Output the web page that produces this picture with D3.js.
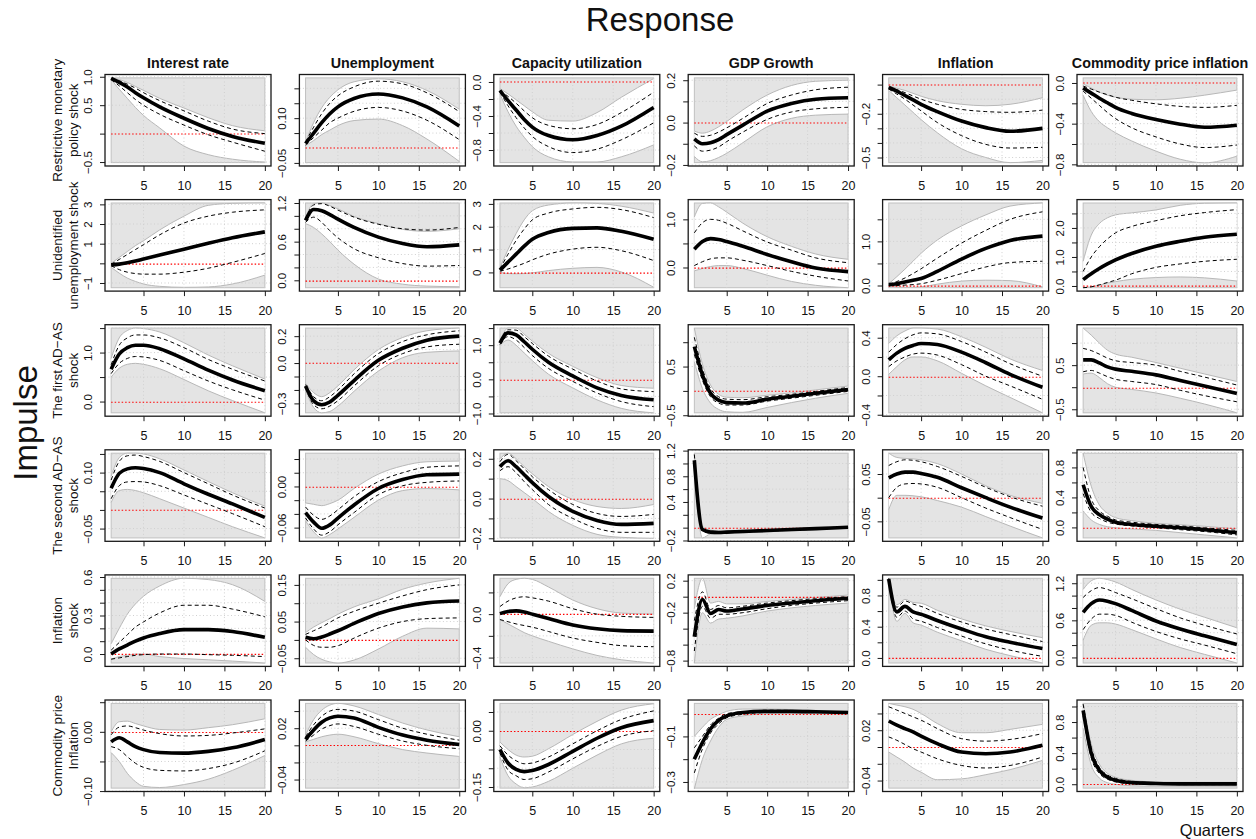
<!DOCTYPE html>
<html>
<head>
<meta charset="UTF-8">
<title>Impulse responses</title>
<script src="https://d3js.org/d3.v7.min.js"></script>
<style>
  body { margin: 0; background: #fff; overflow: hidden; }
  svg text { font-family: "Liberation Sans", Arial, Helvetica, sans-serif; fill: #111; }
</style>
</head>
<body>
<div id="chart"></div>
<script>

var quarters = [1, 2, 3, 4, 5, 7, 10, 13, 16, 20];
var xTickValues = [5, 10, 15, 20];

var responses = ["Interest rate", "Unemployment", "Capacity utilization", "GDP Growth", "Inflation", "Commodity price inflation"];
var impulses = [
    ["Restrictive monetary", "policy shock"],
    ["Unidentified", "unemployment shock"],
    ["The first AD\u2212AS", "shock"],
    ["The second AD\u2212AS", "shock"],
    ["Inflation", "shock"],
    ["Commodity price", "Inflation"]
];

// panels are listed row by row (impulse), 6 columns (response) each
var yLimits = [
    [-0.51, 0.98], [-0.049, 0.235], [-0.948, 0.048], [-0.189, 0.211], [-0.535, 0.046], [-0.783, 0.05],
    [-1.24, 3.07], [-0.115, 1.2], [-0.67, 3.04], [-0.42, 1.34], [-0.05, 1.87], [-0.06, 2.86],
    [-0.23, 1.5], [-0.37, 0.26], [-0.98, 1.5], [-0.45, 1.29], [-0.38, 0.5], [-0.58, 1.34],
    [-0.075, 0.152], [-0.075, 0.0485], [-0.198, 0.228], [-0.16, 1.16], [-0.085, 0.094], [-0.14, 0.99],
    [-0.07, 0.59], [-0.063, 0.168], [-0.45, 0.33], [-0.83, 0.23], [-0.065, 1.02], [-0.09, 1.28],
    [-0.095, 0.048], [-0.05, 0.049], [-0.153, 0.073], [-0.327, 0.045], [-0.049, 0.052], [-0.05, 1.04]
];

var yTicks = [
    [-0.5, 0, 0.5, 1], [-0.05, 0, 0.05, 0.1, 0.15, 0.2], [-0.8, -0.6, -0.4, -0.2, 0], [-0.2, -0.1, 0, 0.1, 0.2], [-0.5, -0.4, -0.3, -0.2, -0.1, 0], [-0.8, -0.6, -0.4, -0.2, 0],
    [-1, 0, 1, 2, 3], [0, 0.2, 0.4, 0.6, 0.8, 1.0, 1.2], [0, 1, 2, 3], [0, 0.5, 1], [0, 0.5, 1, 1.5], [0, 0.5, 1, 1.5, 2, 2.5],
    [0, 0.5, 1, 1.5], [-0.3, -0.2, -0.1, 0, 0.1, 0.2], [-1, -0.5, 0, 0.5, 1, 1.5], [-0.5, 0, 0.5, 1], [-0.4, -0.2, 0, 0.2, 0.4], [-0.5, 0, 0.5, 1],
    [-0.05, 0, 0.05, 0.1, 0.15], [-0.06, -0.04, -0.02, 0, 0.02, 0.04], [-0.2, -0.1, 0, 0.1, 0.2], [-0.2, 0, 0.2, 0.4, 0.6, 0.8, 1, 1.2], [-0.05, 0, 0.05], [0, 0.2, 0.4, 0.6, 0.8, 1],
    [0, 0.1, 0.2, 0.3, 0.4, 0.5, 0.6], [-0.05, 0, 0.05, 0.1, 0.15], [-0.4, -0.2, 0, 0.2], [-0.8, -0.6, -0.4, -0.2, 0, 0.2], [0, 0.2, 0.4, 0.6, 0.8, 1], [0, 0.2, 0.4, 0.6, 0.8, 1, 1.2],
    [-0.1, -0.05, 0, 0.05], [-0.04, -0.02, 0, 0.02, 0.04], [-0.15, -0.1, -0.05, 0, 0.05], [-0.3, -0.2, -0.1, 0], [-0.04, -0.02, 0, 0.02, 0.04], [0, 0.2, 0.4, 0.6, 0.8, 1]
];

// labels R printed (others dropped because they would overlap)
var yTickText = [
    ["-0.5", "", "0.5", "1.0"], ["-0.05", "", "", "0.10", "", ""], ["-0.8", "", "-0.4", "", "0.0"], ["-0.2", "", "0.0", "", "0.2"], ["-0.5", "", "", "-0.2", "", ""], ["-0.8", "", "-0.4", "", "0.0"],
    ["-1", "", "1", "2", "3"], ["0.0", "", "", "0.6", "", "", "1.2"], ["0", "1", "2", "3"], ["0.0", "", "1.0"], ["0.0", "", "1.0", ""], ["0.0", "", "1.0", "", "2.0", ""],
    ["0.0", "", "1.0", ""], ["-0.3", "", "", "0.0", "", "0.2"], ["-1.0", "", "0.0", "", "1.0", ""], ["-0.5", "", "0.5", ""], ["-0.4", "", "0.0", "", "0.4"], ["-0.5", "", "0.5", ""],
    ["-0.05", "", "", "0.10", ""], ["-0.06", "", "", "0.00", "", ""], ["-0.2", "", "0.0", "", "0.2"], ["-0.2", "", "", "0.4", "", "0.8", "", "1.2"], ["-0.05", "", "0.05"], ["0.0", "", "0.4", "", "0.8", ""],
    ["0.0", "", "", "0.3", "", "", "0.6"], ["-0.05", "", "0.05", "", "0.15"], ["-0.4", "", "0.0", ""], ["-0.8", "", "", "-0.2", "", "0.2"], ["0.0", "", "0.4", "", "0.8", ""], ["0.0", "", "", "0.6", "", "", "1.2"],
    ["-0.10", "", "0.00", ""], ["-0.04", "", "", "0.02", ""], ["-0.15", "", "", "0.00", ""], ["-0.3", "", "-0.1", ""], ["-0.04", "", "", "0.02", ""], ["0.0", "", "0.4", "", "0.8", ""]
];

var medianIRF = [
    [0.97, 0.90, 0.82, 0.72, 0.63, 0.47, 0.27, 0.09, -0.05, -0.17],
    [0.015, 0.05, 0.085, 0.115, 0.138, 0.166, 0.181, 0.168, 0.138, 0.074],
    [-0.10, -0.22, -0.33, -0.44, -0.53, -0.63, -0.68, -0.63, -0.52, -0.30],
    [-0.077, -0.10, -0.095, -0.08, -0.057, -0.012, 0.054, 0.09, 0.11, 0.117],
    [-0.02, -0.045, -0.075, -0.105, -0.135, -0.185, -0.25, -0.295, -0.32, -0.30],
    [-0.05, -0.10, -0.15, -0.195, -0.24, -0.30, -0.36, -0.405, -0.435, -0.415],

    [-0.08, -0.04, 0.03, 0.12, 0.22, 0.42, 0.72, 1.02, 1.3, 1.6],
    [0.93, 1.1, 1.08, 1.02, 0.95, 0.82, 0.67, 0.57, 0.52, 0.55],
    [0.1, 0.45, 0.8, 1.15, 1.45, 1.75, 1.93, 1.95, 1.8, 1.45],
    [0.38, 0.54, 0.6, 0.58, 0.54, 0.44, 0.27, 0.12, -0.01, -0.085],
    [0.02, 0.04, 0.08, 0.12, 0.16, 0.32, 0.6, 0.84, 1.02, 1.12],
    [0.22, 0.42, 0.6, 0.76, 0.9, 1.12, 1.37, 1.54, 1.68, 1.78],

    [0.66, 0.97, 1.1, 1.15, 1.15, 1.08, 0.87, 0.64, 0.44, 0.22],
    [-0.17, -0.28, -0.31, -0.29, -0.24, -0.13, 0.02, 0.11, 0.17, 0.2],
    [1.06, 1.36, 1.3, 1.1, 0.88, 0.5, 0.1, -0.25, -0.47, -0.6],
    [0.91, 0.33, -0.05, -0.19, -0.24, -0.25, -0.17, -0.11, -0.05, 0.03],
    [0.17, 0.24, 0.29, 0.32, 0.34, 0.33, 0.25, 0.14, 0.02, -0.115],
    [0.62, 0.62, 0.55, 0.46, 0.41, 0.36, 0.28, 0.15, 0.03, -0.14],

    [0.058, 0.098, 0.11, 0.113, 0.111, 0.1, 0.07, 0.042, 0.016, -0.02],
    [-0.038, -0.052, -0.061, -0.056, -0.046, -0.027, -0.003, 0.01, 0.017, 0.018],
    [0.16, 0.19, 0.16, 0.12, 0.08, 0.01, -0.065, -0.11, -0.13, -0.125],
    [1.05, -0.03, -0.07, -0.075, -0.07, -0.06, -0.045, -0.03, -0.015, 0.005],
    [0.042, 0.05, 0.054, 0.054, 0.051, 0.043, 0.021, 0.0, -0.02, -0.043],
    [0.57, 0.28, 0.17, 0.11, 0.07, 0.04, 0.015, -0.005, -0.03, -0.07],

    [0.0, 0.04, 0.07, 0.1, 0.125, 0.16, 0.19, 0.19, 0.175, 0.13],
    [0.007, 0.003, 0.008, 0.016, 0.025, 0.045, 0.072, 0.09, 0.101, 0.106],
    [0.005, 0.025, 0.03, 0.02, 0.0, -0.04, -0.1, -0.135, -0.152, -0.156],
    [-0.5, -0.035, -0.21, -0.16, -0.18, -0.155, -0.11, -0.08, -0.05, -0.02],
    [1.01, 0.59, 0.66, 0.59, 0.56, 0.48, 0.37, 0.27, 0.2, 0.12],
    [0.73, 0.87, 0.93, 0.91, 0.87, 0.76, 0.59, 0.46, 0.35, 0.21],

    [-0.017, -0.01, -0.017, -0.025, -0.03, -0.035, -0.036, -0.033, -0.027, -0.013],
    [0.007, 0.018, 0.027, 0.032, 0.034, 0.032, 0.021, 0.012, 0.006, 0.001],
    [-0.05, -0.086, -0.103, -0.109, -0.106, -0.09, -0.055, -0.02, 0.008, 0.027],
    [-0.2, -0.127, -0.067, -0.03, -0.01, 0.005, 0.01, 0.01, 0.008, 0.005],
    [0.031, 0.026, 0.022, 0.018, 0.013, 0.004, -0.006, -0.008, -0.006, 0.002],
    [0.95, 0.4, 0.18, 0.09, 0.05, 0.02, 0.01, 0.005, 0.005, 0.005]
];

// inner band (dashed lines)
var upper68 = [
    [0.97, 0.93, 0.87, 0.80, 0.72, 0.58, 0.40, 0.22, 0.08, 0.0],
    [0.02, 0.07, 0.115, 0.15, 0.175, 0.205, 0.224, 0.215, 0.185, 0.122],
    [-0.10, -0.17, -0.25, -0.34, -0.42, -0.51, -0.55, -0.50, -0.36, -0.12],
    [-0.05, -0.065, -0.06, -0.045, -0.025, 0.02, 0.09, 0.13, 0.155, 0.167],
    [-0.02, -0.035, -0.055, -0.078, -0.10, -0.135, -0.17, -0.185, -0.19, -0.175],
    [-0.03, -0.06, -0.09, -0.115, -0.14, -0.17, -0.205, -0.23, -0.24, -0.22],

    [-0.05, 0.2, 0.45, 0.7, 0.95, 1.45, 2.05, 2.4, 2.6, 2.72],
    [0.95, 1.17, 1.19, 1.15, 1.09, 0.98, 0.87, 0.80, 0.78, 0.82],
    [0.15, 0.8, 1.4, 1.9, 2.3, 2.6, 2.78, 2.85, 2.75, 2.4],
    [0.72, 0.93, 1.0, 0.98, 0.92, 0.76, 0.53, 0.36, 0.2, 0.1],
    [0.03, 0.09, 0.17, 0.27, 0.38, 0.62, 0.96, 1.25, 1.5, 1.67],
    [0.5, 1.0, 1.35, 1.62, 1.83, 2.05, 2.25, 2.42, 2.53, 2.63],

    [0.75, 1.15, 1.3, 1.36, 1.36, 1.3, 1.1, 0.86, 0.66, 0.42],
    [-0.16, -0.25, -0.28, -0.25, -0.2, -0.08, 0.07, 0.16, 0.21, 0.24],
    [1.1, 1.45, 1.44, 1.25, 1.05, 0.68, 0.3, -0.05, -0.28, -0.36],
    [1.1, 0.45, 0.05, -0.12, -0.17, -0.18, -0.12, -0.07, -0.01, 0.07],
    [0.25, 0.33, 0.39, 0.43, 0.45, 0.44, 0.36, 0.25, 0.13, 0.0],
    [0.88, 0.83, 0.75, 0.66, 0.6, 0.56, 0.5, 0.36, 0.23, 0.05],

    [0.08, 0.13, 0.145, 0.147, 0.143, 0.13, 0.1, 0.07, 0.04, 0.005],
    [-0.03, -0.042, -0.048, -0.043, -0.034, -0.015, 0.007, 0.02, 0.028, 0.03],
    [0.185, 0.222, 0.19, 0.15, 0.11, 0.045, -0.03, -0.075, -0.09, -0.08],
    [1.14, -0.005, -0.055, -0.06, -0.06, -0.05, -0.035, -0.02, -0.005, 0.012],
    [0.068, 0.076, 0.08, 0.079, 0.076, 0.066, 0.045, 0.022, 0.002, -0.018],
    [0.8, 0.38, 0.22, 0.15, 0.1, 0.07, 0.04, 0.02, -0.005, -0.04],

    [0.03, 0.09, 0.15, 0.21, 0.25, 0.32, 0.38, 0.38, 0.35, 0.29],
    [0.015, 0.025, 0.035, 0.048, 0.06, 0.078, 0.1, 0.12, 0.137, 0.15],
    [0.07, 0.12, 0.15, 0.16, 0.15, 0.12, 0.05, 0.0, -0.02, -0.03],
    [-0.3, 0.06, -0.16, -0.11, -0.14, -0.12, -0.08, -0.05, -0.025, 0.0],
    [1.02, 0.65, 0.73, 0.69, 0.66, 0.57, 0.46, 0.37, 0.3, 0.21],
    [0.97, 1.08, 1.13, 1.1, 1.05, 0.95, 0.79, 0.64, 0.52, 0.38],

    [-0.005, 0.008, 0.01, 0.007, 0.003, -0.003, -0.007, -0.006, -0.002, 0.005],
    [0.01, 0.024, 0.034, 0.04, 0.042, 0.04, 0.03, 0.02, 0.013, 0.006],
    [-0.04, -0.065, -0.08, -0.088, -0.086, -0.07, -0.035, 0.0, 0.03, 0.053],
    [-0.15, -0.1, -0.05, -0.02, 0.0, 0.008, 0.015, 0.014, 0.01, 0.007],
    [0.048, 0.044, 0.04, 0.036, 0.032, 0.022, 0.01, 0.007, 0.009, 0.016],
    [1.03, 0.47, 0.22, 0.12, 0.075, 0.035, 0.02, 0.015, 0.015, 0.015]
];

var lower68 = [
    [0.95, 0.84, 0.72, 0.60, 0.50, 0.34, 0.15, -0.02, -0.15, -0.31],
    [0.01, 0.035, 0.06, 0.085, 0.10, 0.123, 0.136, 0.124, 0.093, 0.028],
    [-0.12, -0.28, -0.42, -0.54, -0.64, -0.76, -0.83, -0.79, -0.68, -0.48],
    [-0.11, -0.135, -0.13, -0.115, -0.09, -0.045, 0.015, 0.05, 0.065, 0.072],
    [-0.03, -0.065, -0.10, -0.14, -0.18, -0.26, -0.35, -0.41, -0.435, -0.43],
    [-0.08, -0.15, -0.22, -0.29, -0.35, -0.44, -0.53, -0.60, -0.635, -0.61],

    [-0.12, -0.32, -0.45, -0.52, -0.55, -0.55, -0.45, -0.25, 0.05, 0.5],
    [0.9, 0.98, 0.9, 0.77, 0.66, 0.49, 0.35, 0.26, 0.22, 0.23],
    [0.05, 0.15, 0.27, 0.4, 0.55, 0.8, 1.02, 1.1, 0.95, 0.52],
    [0.04, 0.12, 0.18, 0.2, 0.2, 0.15, 0.04, -0.08, -0.18, -0.28],
    [0.0, 0.0, 0.01, 0.02, 0.04, 0.12, 0.27, 0.42, 0.52, 0.55],
    [-0.06, -0.03, 0.04, 0.12, 0.2, 0.42, 0.64, 0.76, 0.85, 0.92],

    [0.57, 0.78, 0.88, 0.92, 0.91, 0.84, 0.63, 0.42, 0.24, 0.03],
    [-0.18, -0.31, -0.34, -0.32, -0.28, -0.17, -0.02, 0.07, 0.12, 0.14],
    [1.02, 1.25, 1.15, 0.93, 0.7, 0.32, -0.06, -0.4, -0.65, -0.8],
    [0.75, 0.22, -0.12, -0.25, -0.29, -0.29, -0.21, -0.15, -0.09, -0.01],
    [0.1, 0.16, 0.2, 0.23, 0.24, 0.22, 0.12, 0.0, -0.1, -0.24],
    [0.35, 0.38, 0.32, 0.24, 0.18, 0.13, 0.06, -0.07, -0.19, -0.33],

    [0.03, 0.065, 0.075, 0.076, 0.075, 0.065, 0.04, 0.015, -0.01, -0.045],
    [-0.046, -0.062, -0.071, -0.066, -0.056, -0.038, -0.012, 0.001, 0.006, 0.008],
    [0.14, 0.16, 0.13, 0.085, 0.045, -0.03, -0.1, -0.15, -0.17, -0.17],
    [0.98, -0.05, -0.085, -0.085, -0.08, -0.07, -0.055, -0.04, -0.025, -0.002],
    [0.0, 0.022, 0.029, 0.03, 0.029, 0.022, 0.0, -0.022, -0.042, -0.067],
    [0.45, 0.2, 0.12, 0.07, 0.045, 0.02, -0.005, -0.03, -0.055, -0.1],

    [-0.04, -0.03, -0.02, -0.01, -0.005, 0.0, 0.0, -0.005, -0.01, -0.02],
    [0.0, -0.015, -0.02, -0.02, -0.016, 0.005, 0.032, 0.05, 0.058, 0.06],
    [-0.05, -0.07, -0.09, -0.105, -0.12, -0.16, -0.22, -0.26, -0.29, -0.3],
    [-0.68, -0.12, -0.27, -0.22, -0.22, -0.2, -0.15, -0.11, -0.08, -0.05],
    [1.0, 0.52, 0.6, 0.5, 0.47, 0.39, 0.28, 0.18, 0.1, 0.02],
    [0.45, 0.62, 0.7, 0.7, 0.68, 0.57, 0.42, 0.3, 0.2, 0.06],

    [-0.025, -0.03, -0.042, -0.053, -0.06, -0.065, -0.066, -0.062, -0.053, -0.032],
    [0.005, 0.012, 0.019, 0.023, 0.025, 0.022, 0.013, 0.005, 0.0, -0.004],
    [-0.06, -0.105, -0.12, -0.13, -0.128, -0.11, -0.075, -0.042, -0.015, 0.0],
    [-0.26, -0.155, -0.085, -0.045, -0.018, -0.003, 0.005, 0.006, 0.005, 0.003],
    [0.012, 0.008, 0.003, -0.002, -0.006, -0.014, -0.022, -0.025, -0.022, -0.012],
    [0.88, 0.34, 0.14, 0.065, 0.03, 0.008, 0.0, -0.005, -0.005, -0.005]
];

// outer band (white area with grey edges)
var upper95 = [
    [0.98, 0.95, 0.90, 0.83, 0.76, 0.62, 0.45, 0.28, 0.14, 0.05],
    [0.02, 0.085, 0.135, 0.17, 0.195, 0.222, 0.232, 0.222, 0.193, 0.13],
    [-0.08, -0.14, -0.21, -0.28, -0.35, -0.45, -0.46, -0.36, -0.18, 0.04],
    [-0.04, -0.05, -0.04, -0.02, 0.005, 0.06, 0.13, 0.175, 0.195, 0.2],
    [-0.01, -0.025, -0.04, -0.06, -0.08, -0.11, -0.135, -0.145, -0.135, -0.09],
    [-0.01, -0.05, -0.09, -0.12, -0.14, -0.16, -0.165, -0.15, -0.12, -0.07],

    [0.0, 0.3, 0.6, 0.9, 1.15, 1.7, 2.4, 2.95, 3.05, 3.07],
    [0.97, 1.19, 1.2, 1.16, 1.11, 0.99, 0.88, 0.79, 0.76, 0.8],
    [0.2, 1.0, 1.7, 2.3, 2.7, 2.95, 3.04, 3.02, 2.9, 2.6],
    [1.05, 1.33, 1.34, 1.26, 1.15, 0.92, 0.64, 0.44, 0.28, 0.17],
    [0.04, 0.2, 0.37, 0.55, 0.73, 1.03, 1.35, 1.6, 1.8, 1.87],
    [0.85, 1.75, 2.15, 2.35, 2.45, 2.52, 2.62, 2.78, 2.85, 2.86],

    [0.88, 1.3, 1.45, 1.5, 1.49, 1.42, 1.2, 0.95, 0.73, 0.46],
    [-0.15, -0.22, -0.25, -0.22, -0.17, -0.05, 0.1, 0.19, 0.24, 0.26],
    [1.12, 1.5, 1.5, 1.32, 1.12, 0.76, 0.38, 0.05, -0.18, -0.26],
    [1.29, 0.55, 0.12, -0.07, -0.13, -0.14, -0.09, -0.04, 0.02, 0.1],
    [0.34, 0.42, 0.47, 0.5, 0.5, 0.49, 0.41, 0.3, 0.18, 0.06],
    [1.34, 1.18, 1.0, 0.84, 0.75, 0.68, 0.56, 0.43, 0.3, 0.13],

    [0.09, 0.14, 0.152, 0.152, 0.15, 0.137, 0.107, 0.076, 0.046, 0.01],
    [-0.024, -0.026, -0.028, -0.025, -0.02, -0.003, 0.018, 0.03, 0.036, 0.037],
    [0.2, 0.228, 0.2, 0.16, 0.125, 0.06, -0.005, -0.04, -0.05, -0.03],
    [1.14, 0.02, -0.04, -0.05, -0.05, -0.04, -0.028, -0.013, 0.0, 0.018],
    [0.094, 0.085, 0.083, 0.082, 0.08, 0.072, 0.05, 0.025, 0.005, -0.012],
    [0.99, 0.55, 0.3, 0.19, 0.13, 0.09, 0.055, 0.035, 0.015, -0.02],

    [0.08, 0.2, 0.31, 0.39, 0.45, 0.53, 0.59, 0.58, 0.54, 0.41],
    [0.02, 0.035, 0.047, 0.058, 0.07, 0.09, 0.112, 0.138, 0.155, 0.168],
    [0.16, 0.28, 0.32, 0.33, 0.32, 0.25, 0.13, 0.05, 0.01, 0.0],
    [-0.15, 0.23, -0.08, -0.06, -0.09, -0.09, -0.06, -0.035, -0.01, 0.02],
    [1.02, 0.68, 0.75, 0.71, 0.7, 0.61, 0.5, 0.41, 0.34, 0.26],
    [1.1, 1.24, 1.28, 1.26, 1.22, 1.1, 0.93, 0.78, 0.65, 0.48],

    [0.0, 0.017, 0.018, 0.014, 0.01, 0.004, 0.003, 0.007, 0.012, 0.022],
    [0.012, 0.03, 0.041, 0.047, 0.049, 0.046, 0.036, 0.026, 0.018, 0.01],
    [-0.03, -0.05, -0.065, -0.07, -0.068, -0.048, -0.01, 0.025, 0.055, 0.072],
    [-0.1, -0.06, -0.025, -0.005, 0.01, 0.02, 0.02, 0.018, 0.014, 0.01],
    [0.052, 0.05, 0.048, 0.045, 0.04, 0.028, 0.017, 0.017, 0.021, 0.027],
    [1.04, 0.52, 0.26, 0.14, 0.09, 0.05, 0.03, 0.025, 0.025, 0.025]
];

var lower95 = [
    [0.95, 0.78, 0.62, 0.46, 0.32, 0.10, -0.22, -0.37, -0.45, -0.50],
    [0.008, 0.025, 0.045, 0.06, 0.075, 0.092, 0.097, 0.075, 0.03, -0.045],
    [-0.14, -0.35, -0.52, -0.65, -0.76, -0.88, -0.94, -0.94, -0.88, -0.74],
    [-0.16, -0.185, -0.18, -0.165, -0.145, -0.095, -0.02, 0.02, 0.035, 0.04],
    [-0.04, -0.09, -0.14, -0.19, -0.24, -0.33, -0.44, -0.50, -0.535, -0.52],
    [-0.12, -0.28, -0.38, -0.44, -0.49, -0.57, -0.67, -0.75, -0.785, -0.72],

    [-0.2, -0.5, -0.75, -0.92, -1.05, -1.17, -1.22, -1.2, -1.05, -0.6],
    [0.88, 0.82, 0.72, 0.6, 0.47, 0.25, 0.02, -0.06, -0.09, -0.1],
    [0.0, -0.05, -0.06, -0.05, -0.02, 0.08, 0.18, 0.22, 0.02, -0.65],
    [-0.07, -0.02, 0.02, 0.04, 0.04, -0.02, -0.16, -0.29, -0.37, -0.42],
    [-0.01, -0.03, -0.04, -0.04, -0.03, 0.03, 0.1, 0.12, 0.11, -0.03],
    [-0.06, -0.03, 0.03, 0.1, 0.15, 0.23, 0.29, 0.31, 0.28, 0.17],

    [0.5, 0.68, 0.76, 0.78, 0.76, 0.67, 0.45, 0.22, 0.02, -0.23],
    [-0.2, -0.33, -0.37, -0.36, -0.32, -0.21, -0.06, 0.04, 0.08, 0.09],
    [1.0, 1.15, 1.0, 0.77, 0.55, 0.15, -0.25, -0.6, -0.85, -0.98],
    [0.6, 0.05, -0.25, -0.38, -0.43, -0.44, -0.34, -0.24, -0.15, -0.05],
    [0.02, 0.1, 0.17, 0.2, 0.2, 0.16, 0.03, -0.1, -0.22, -0.38],
    [0.3, 0.32, 0.22, 0.08, 0.0, -0.05, -0.13, -0.25, -0.38, -0.58],

    [0.02, 0.052, 0.055, 0.052, 0.046, 0.03, 0.005, -0.02, -0.045, -0.075],
    [-0.05, -0.066, -0.075, -0.07, -0.062, -0.045, -0.02, -0.006, -0.003, -0.005],
    [0.1, 0.09, 0.06, 0.03, 0.0, -0.065, -0.135, -0.18, -0.195, -0.2],
    [0.9, -0.16, -0.1, -0.095, -0.09, -0.08, -0.065, -0.05, -0.032, -0.01],
    [-0.025, 0.005, 0.005, 0.004, 0.002, -0.006, -0.02, -0.04, -0.06, -0.085],
    [0.22, 0.1, 0.04, 0.01, -0.005, -0.02, -0.04, -0.07, -0.1, -0.14],

    [-0.04, -0.02, -0.01, 0.0, 0.0, -0.02, -0.035, -0.045, -0.055, -0.07],
    [-0.02, -0.04, -0.053, -0.06, -0.063, -0.055, -0.025, 0.01, 0.032, 0.03],
    [-0.05, -0.09, -0.13, -0.17, -0.2, -0.25, -0.32, -0.38, -0.42, -0.45],
    [-0.83, -0.2, -0.33, -0.28, -0.27, -0.24, -0.18, -0.14, -0.11, -0.08],
    [1.0, 0.47, 0.57, 0.45, 0.42, 0.33, 0.22, 0.11, 0.03, -0.065],
    [0.28, 0.52, 0.56, 0.56, 0.54, 0.45, 0.3, 0.16, 0.05, -0.09],

    [-0.035, -0.05, -0.07, -0.084, -0.092, -0.094, -0.089, -0.08, -0.065, -0.04],
    [0.004, 0.007, 0.01, 0.012, 0.013, 0.01, 0.002, -0.005, -0.009, -0.013],
    [-0.07, -0.12, -0.142, -0.152, -0.15, -0.135, -0.1, -0.065, -0.035, -0.02],
    [-0.33, -0.2, -0.12, -0.06, -0.025, -0.01, 0.0, 0.002, 0.0, -0.002],
    [-0.006, -0.012, -0.018, -0.025, -0.03, -0.039, -0.038, -0.033, -0.027, -0.016],
    [0.72, 0.25, 0.08, 0.02, 0.0, -0.02, -0.025, -0.025, -0.025, -0.025]
];

// layout of the 6x6 grid
var width = 1256, height = 839;
var boxW = 166, boxH = 91.5;
function boxLeft(c) { return 105 + c * 194.4; }
function boxTop(r) { return 74.5 + r * 125.1; }

var svg = d3.select("#chart").append("svg")
    .attr("width", width)
    .attr("height", height);

function minusSign(s) { return s.replace("-", "\u2212"); }

for (var r = 0; r < 6; r++) {
    for (var c = 0; c < 6; c++) {
        drawPanel(r, c);
    }
}

function drawPanel(r, c) {
    var i = r * 6 + c;
    var lim = yLimits[i];
    var pad = (lim[1] - lim[0]) * 0.04;

    var x = d3.scaleLinear().domain([1 - 19 * 0.04, 20 + 19 * 0.04]).range([0, boxW]);
    var y = d3.scaleLinear().domain([lim[0] - pad, lim[1] + pad]).range([boxH, 0]);

    var g = svg.append("g")
        .attr("transform", "translate(" + boxLeft(c) + "," + boxTop(r) + ")");

    // grey background over the data range
    g.append("rect")
        .attr("x", x(1)).attr("y", y(lim[1]))
        .attr("width", x(20) - x(1)).attr("height", y(lim[0]) - y(lim[1]))
        .attr("fill", "#e4e4e4")
        .attr("stroke", "#c0c0c0");

    var rows = quarters.map(function (q, k) {
        return { q: q, med: medianIRF[i][k], lo68: lower68[i][k], hi68: upper68[i][k], lo95: lower95[i][k], hi95: upper95[i][k] };
    });

    var area = d3.area()
        .x(function (d) { return x(d.q); })
        .y0(function (d) { return y(d.lo95); })
        .y1(function (d) { return y(d.hi95); })
        .curve(d3.curveMonotoneX);

    g.append("path").attr("d", area(rows)).attr("fill", "#fff");

    function lineFor(key) {
        return d3.line()
            .x(function (d) { return x(d.q); })
            .y(function (d) { return y(d[key]); })
            .curve(d3.curveMonotoneX)(rows);
    }

    ["lo95", "hi95"].forEach(function (k) {
        g.append("path").attr("d", lineFor(k))
            .attr("fill", "none").attr("stroke", "#b8b8b8").attr("stroke-width", 1);
    });

    // dotted grid at the tick positions
    var ticks = yTicks[i].filter(function (t) { return t >= y.domain()[0] && t <= y.domain()[1]; });
    g.selectAll(".hgrid").data(ticks.filter(function (t) { return t !== 0; })).enter().append("line")
        .attr("x1", 0).attr("x2", boxW)
        .attr("y1", function (d) { return y(d); }).attr("y2", function (d) { return y(d); })
        .attr("stroke", "#d0d0d0").attr("stroke-dasharray", "1,2.5");
    g.selectAll(".vgrid").data(xTickValues).enter().append("line")
        .attr("y1", 0).attr("y2", boxH)
        .attr("x1", function (d) { return x(d); }).attr("x2", function (d) { return x(d); })
        .attr("stroke", "#d0d0d0").attr("stroke-dasharray", "1,2.5");

    // zero line
    g.append("line")
        .attr("x1", x(1)).attr("x2", x(20))
        .attr("y1", Math.round(y(0)) + 0.5).attr("y2", Math.round(y(0)) + 0.5)
        .attr("stroke", "#ff0000").attr("stroke-width", 1.1)
        .attr("stroke-dasharray", "1.5,2");

    ["lo68", "hi68"].forEach(function (k) {
        g.append("path").attr("d", lineFor(k))
            .attr("fill", "none").attr("stroke", "#000").attr("stroke-width", 1)
            .attr("stroke-dasharray", "4,3");
    });

    g.append("path").attr("d", lineFor("med"))
        .attr("fill", "none").attr("stroke", "#000").attr("stroke-width", 3.6)
        .attr("stroke-linejoin", "round");

    // frame
    g.append("rect")
        .attr("width", boxW).attr("height", boxH)
        .attr("fill", "none").attr("stroke", "#1a1a1a").attr("stroke-width", 1.3);

    // x axis
    var xAxis = g.append("g")
        .attr("transform", "translate(0," + boxH + ")")
        .call(d3.axisBottom(x).tickValues(xTickValues).tickSize(5).tickFormat(d3.format("d")));
    xAxis.select(".domain").remove();
    xAxis.selectAll("line").attr("stroke", "#1a1a1a");
    xAxis.selectAll("text")
        .attr("y", 15).attr("dy", "0.71em")
        .style("font-size", "12.5px").attr("fill", "#222");

    // y axis, labels parallel to the axis
    var labels = {};
    yTicks[i].forEach(function (t, k) { labels[t] = yTickText[i][k]; });
    var yAxis = g.append("g")
        .call(d3.axisLeft(y).tickValues(ticks).tickSize(5)
            .tickFormat(function (d) { return minusSign(labels[d]); }));
    yAxis.select(".domain").remove();
    yAxis.selectAll("line").attr("stroke", "#1a1a1a");
    yAxis.selectAll("text")
        .attr("transform", "rotate(-90)")
        .attr("x", 0).attr("y", -13).attr("dy", 0)
        .attr("text-anchor", "middle")
        .style("font-size", "11.5px").attr("fill", "#222");

    // titles
    if (r === 0) {
        svg.append("text")
            .attr("x", boxLeft(c) + boxW / 2).attr("y", 68)
            .attr("text-anchor", "middle")
            .style("font-size", "14.3px").style("font-weight", "bold")
            .text(responses[c]);
    }
    if (c === 0) {
        var cy = boxTop(r) + boxH / 2;
        impulses[r].forEach(function (line, k) {
            svg.append("text")
                .attr("transform", "translate(" + (62 + k * 16) + "," + cy + ") rotate(-90)")
                .attr("text-anchor", "middle")
                .style("font-size", "13.5px")
                .text(line);
        });
    }
}

svg.append("text")
    .attr("x", 660).attr("y", 31)
    .attr("text-anchor", "middle")
    .style("font-size", "33px")
    .text("Response");

svg.append("text")
    .attr("transform", "translate(37,423) rotate(-90)")
    .attr("text-anchor", "middle")
    .style("font-size", "33px")
    .text("Impulse");

svg.append("text")
    .attr("x", 1244).attr("y", 836)
    .attr("text-anchor", "end")
    .style("font-size", "16.5px")
    .text("Quarters");

</script>
</body>
</html>
